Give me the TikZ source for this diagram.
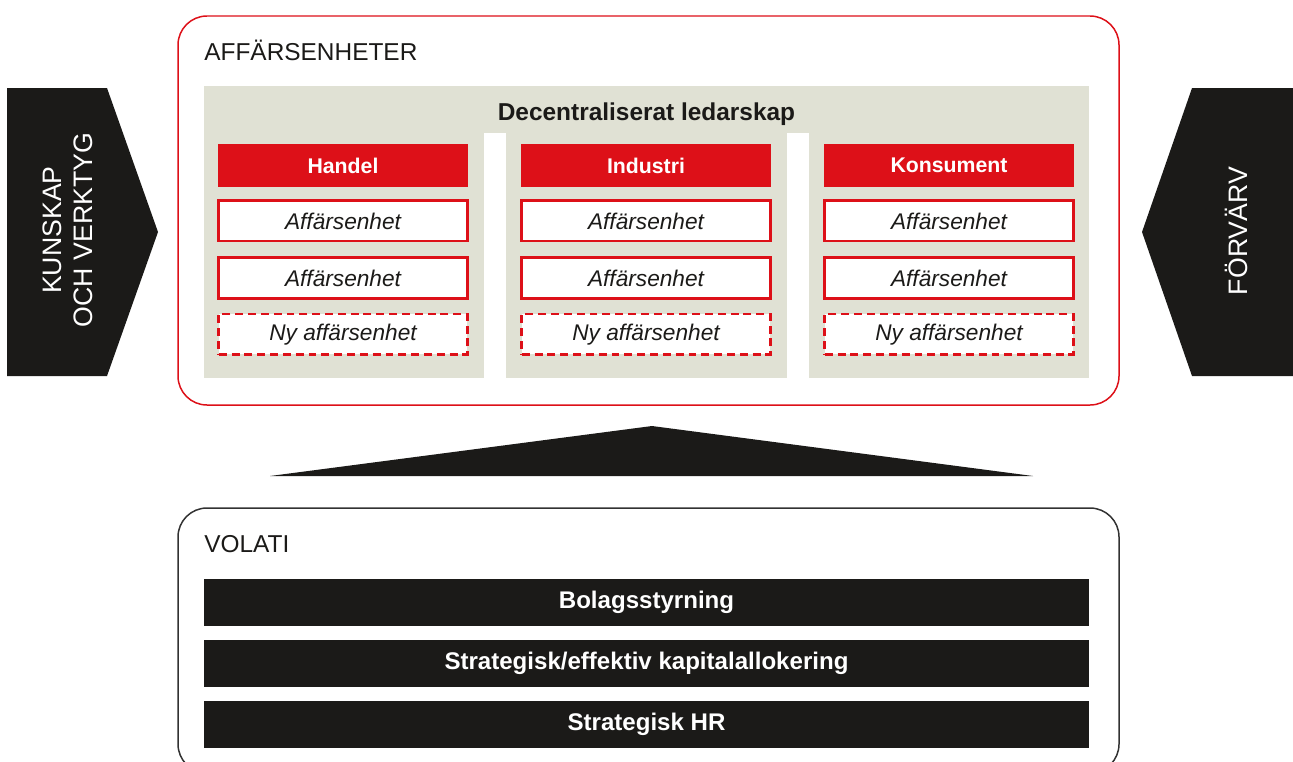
\documentclass[tikz,border=0pt]{standalone}
\usepackage{fontspec}
\setmainfont{Liberation Sans}
\usetikzlibrary{positioning}
\definecolor{vol-red}{RGB}{221, 16, 24}
\definecolor{vol-grey}{RGB}{224, 225, 212}
\definecolor{vol-black}{RGB}{27, 26, 24}
\definecolor{vol-line}{RGB}{50, 50, 50}

\begin{document}
\begin{tikzpicture}[x=0.02cm, y=-0.02cm,
    heading/.style={font=\fontsize{13.9}{17.6}\selectfont, text=vol-black, inner sep=0pt},
    sidelabel/.style={font=\fontsize{15.2}{17.6}\selectfont, text=white, rotate=90, align=center, inner sep=0pt},
    segment/.style={fill=vol-red, text=white, font=\fontsize{12.1}{14}\selectfont\bfseries, minimum width=5cm, minimum height=0.86cm, inner sep=0pt},
    unit/.style={draw=vol-red, line width=1.5pt, fill=white, text=vol-black, font=\fontsize{12.9}{14}\selectfont\itshape, minimum width=4.97cm, minimum height=0.81cm, inner sep=0pt},
    newunit/.style={unit, dash pattern=on 4.5pt off 2.8pt},
    bar/.style={fill=vol-black, text=white, font=\fontsize{13.7}{16}\selectfont\bfseries, minimum width=17.7cm, minimum height=0.94cm, inner sep=0pt}]
\useasboundingbox (0,0) rectangle (1293,761);

% side arrows
\filldraw[fill=vol-black, draw=none] (7,88) -- (107,88) -- (158,232) -- (107,376) -- (7,376) -- cycle;
\filldraw[fill=vol-black, draw=none] (1293,88) -- (1192,88) -- (1142,232) -- (1192,376) -- (1293,376) -- cycle;
\node[sidelabel] (kunskap) at (68,230) {KUNSKAP\\OCH VERKTYG};
\node[sidelabel] (forvarv) at (1236,231) {FÖRVÄRV};

% business units
\draw[vol-red, line width=0.85pt, rounded corners=0.58cm] (178,16) rectangle (1119,405);
\node[heading, anchor=base west] (affar) at (204,60) {AFFÄRSENHETER};
\fill[vol-grey] (204,86) rectangle (1089,133);
\fill[vol-grey] (204,133) rectangle (484,378);
\fill[vol-grey] (506,133) rectangle (787,378);
\fill[vol-grey] (809,133) rectangle (1089,378);
\node[heading, font=\fontsize{13.9}{17.6}\selectfont\bfseries, anchor=base] (ledarskap) at (646.5,120) {Decentraliserat ledarskap};

\node[segment] (handel) at (343,165.5) {Handel};
\node[unit, below=0.24cm of handel] (handel1) {Affärsenhet};
\node[unit, below=0.28cm of handel1] (handel2) {Affärsenhet};
\node[newunit, below=0.26cm of handel2] (handel3) {Ny affärsenhet};

\node[segment] (industri) at (646,165.5) {Industri};
\node[unit, below=0.24cm of industri] (industri1) {Affärsenhet};
\node[unit, below=0.28cm of industri1] (industri2) {Affärsenhet};
\node[newunit, below=0.26cm of industri2] (industri3) {Ny affärsenhet};

\node[segment] (konsument) at (949,165.5) {Konsument};
\node[unit, below=0.24cm of konsument] (konsument1) {Affärsenhet};
\node[unit, below=0.28cm of konsument1] (konsument2) {Affärsenhet};
\node[newunit, below=0.26cm of konsument2] (konsument3) {Ny affärsenhet};

% base
\filldraw[fill=vol-black, draw=none] (270,476) -- (652,426) -- (1033,476) -- cycle;

\draw[vol-line, line width=0.85pt, rounded corners=0.58cm] (178,508) rectangle (1119,773);
\node[heading, anchor=base west] (volati) at (204,552) {VOLATI};
\node[bar] (styrning) at (646.5,602) {Bolagsstyrning};
\node[bar] (kapital) at (646.5,663) {Strategisk/effektiv kapitalallokering};
\node[bar] (hr) at (646.5,724) {Strategisk HR};
\end{tikzpicture}
\end{document}
